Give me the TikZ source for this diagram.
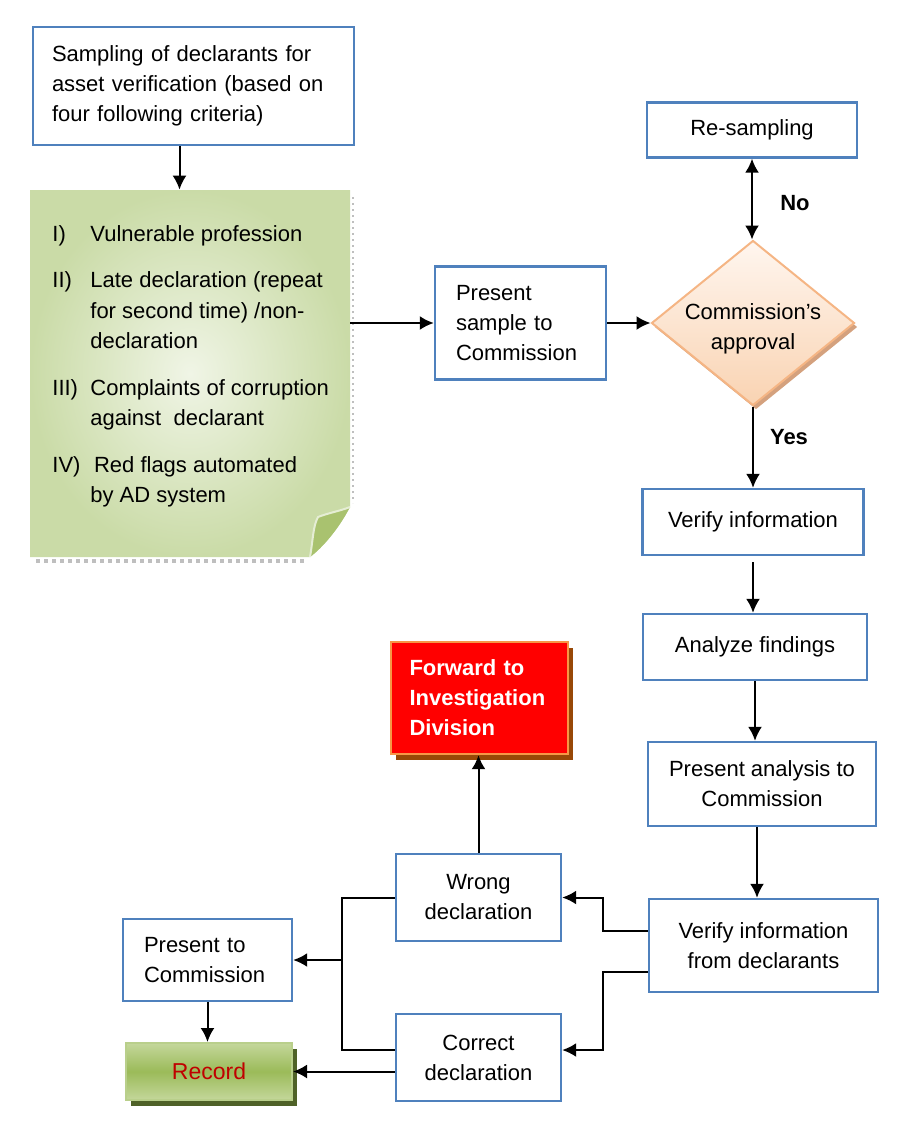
\documentclass[tikz,border=0pt]{standalone}
\usepackage{fontspec}
\setmainfont{Liberation Sans}
\usetikzlibrary{shapes.geometric,arrows.meta,shadows}

\definecolor{boxblue}{HTML}{4F81BD}
\definecolor{notelight}{HTML}{F0F5E6}
\definecolor{notedark}{HTML}{CADBA7}
\definecolor{flapgreen}{HTML}{A9C26F}
\definecolor{peachtop}{HTML}{FFF6EF}
\definecolor{peachbot}{HTML}{F9D3B2}
\definecolor{peachline}{HTML}{F5B584}
\definecolor{peachshadow}{HTML}{C98A5E}
\definecolor{recdark}{HTML}{9BBB59}
\definecolor{reclight}{HTML}{C4D79B}
\definecolor{recshadow}{HTML}{4F6228}
\definecolor{recred}{HTML}{C00000}
\definecolor{fwdred}{HTML}{FF0000}
\definecolor{fwdline}{HTML}{F79646}
\definecolor{fwdshadow}{HTML}{984807}

\tikzset{
  box/.style={draw=boxblue, line width=1.2pt, fill=white, align=center,
    inner sep=0pt, font=\fontsize{11}{15}\selectfont},
  lbox/.style={box, align=left, inner xsep=10.5pt},
  arr/.style={-{Latex[length=7pt,width=7pt]}, line width=1pt},
  link/.style={line width=1pt},
  lbl/.style={font=\fontsize{11}{15}\selectfont\bfseries},
}

\begin{document}
\begin{tikzpicture}[x=0.5pt, y=-0.5pt]
    \useasboundingbox (0,0) rectangle (898,1124);

    % Left column
    \node[lbox, text width=141.5pt, inner xsep=9.5pt, minimum height=59pt] (samp) at (193.5,86)
        {Sampling of declarants for\\asset verification (based on\\four following criteria)};

    \node[minimum width=160pt, minimum height=184pt, inner sep=0pt] (crit) at (190,374) {};
    \coordinate (nw) at (30,190);
    \coordinate (ne) at (350,190);
    \coordinate (fa) at (350,507);
    \coordinate (fb) at (310,557);
    \coordinate (sw) at (30,557);
    \draw[gray!50, dotted, line width=2pt] (36,561) -- (306,561);
    \draw[gray!50, dotted, line width=1pt] (352.5,197) -- (352.5,503);
    \shade[inner color=notelight, outer color=notedark]
        (nw) -- (ne) -- (fa) .. controls (338,530) and (322,548) .. (fb) -- (sw) -- cycle;
    \fill[flapgreen] (fb) .. controls (313,540) and (313,526) .. (318,517)
        .. controls (328,513) and (340,511) .. (fa)
        .. controls (338,530) and (322,548) .. (fb);
    \draw[white!70!flapgreen, line width=1pt] (fb) .. controls (313,540) and (313,526) .. (318,517)
        .. controls (328,513) and (340,511) .. (fa);

    \node[anchor=north west, align=left, inner sep=0pt,
          font=\fontsize{11}{15.25}\selectfont] (critlist) at (52,225) {%
        \makebox[19pt][l]{I)}Vulnerable profession\\[8pt]
        \makebox[19pt][l]{II)}Late declaration (repeat\\
        \hspace*{19pt}for second time) /non-\\
        \hspace*{19pt}declaration\\[8pt]
        \makebox[19pt][l]{III)}Complaints of corruption\\
        \hspace*{19pt}against\ \ declarant\\[8pt]
        \makebox[19pt][l]{IV)}\,Red flags automated\\
        \hspace*{19pt}by AD system};

    % Approval
    \node[lbox, text width=64.5pt, minimum height=56.5pt] (pres) at (520.5,323)
        {Present\\sample to\\Commission};
    \node[diamond, draw=peachline, line width=1pt, top color=peachtop, bottom color=peachbot,
          aspect=1.23, minimum width=101.5pt, minimum height=82.5pt, inner sep=0pt,
          align=center, font=\fontsize{11}{15}\selectfont,
          drop shadow={shadow xshift=1.5pt, shadow yshift=-2pt, fill=peachshadow, opacity=.8}]
          (appr) at (753,323)
          {\raisebox{-3pt}[\height][\depth]{Commission’s}\\\raisebox{-3pt}[\height][\depth]{approval}};
    \node[box, minimum width=105pt, minimum height=27.5pt] (resamp) at (752,130) {Re-sampling};

    \node[lbl] (nolbl) at (795,203) {No};
    \node[lbl] (yeslbl) at (789,437) {Yes};

    % Right column
    \node[box, minimum width=110.5pt, minimum height=33pt] (vinfo) at (753,522) {Verify information};
    \node[box, minimum width=112pt, minimum height=33pt] (anal) at (755,647) {Analyze findings};
    \node[box, minimum width=114pt, minimum height=42pt] (pana) at (762,784)
        {Present analysis to\\Commission};
    \node[box, minimum width=114.5pt, minimum height=46.5pt] (vdecl) at (763.5,945.5)
        {Verify information\\from declarants};

    % Outcome
    \node[box, minimum width=82.5pt, minimum height=43.5pt] (wrong) at (478.5,897.5)
        {Wrong\\declaration};
    \node[box, minimum width=82.5pt, minimum height=43.5pt] (correct) at (478.5,1057.5)
        {Correct\\declaration};
    \node[lbox, draw=fwdline, fill=fwdred, text=white, text width=70pt, inner xsep=9.25pt,
          minimum height=56pt, font=\fontsize{11}{15}\selectfont\bfseries,
          drop shadow={shadow xshift=2.5pt, shadow yshift=-3pt, fill=fwdshadow, opacity=1}]
          (fwd) at (479.5,698) {Forward to\\Investigation\\Division};
    \node[lbox, text width=63.5pt, minimum height=41pt] (prescomm) at (207.5,960)
        {Present to\\Commission};
    \node[draw=recdark!70!white, line width=1pt, top color=reclight, bottom color=reclight,
          middle color=recdark, minimum width=83pt, minimum height=28.5pt, text=recred,
          font=\fontsize{11.5}{15}\selectfont,
          drop shadow={shadow xshift=2.5pt, shadow yshift=-3pt, fill=recshadow, opacity=1}]
          (rec) at (209,1071.5) {Record};

    % Connectors
    \draw[arr] ([xshift=-7pt]samp.south) -- ([xshift=-7pt]samp.south |- crit.north);
    \draw[arr] (crit.east |- pres.west) -- (pres.west);
    \draw[arr] (pres.east) -- (appr.west);
    \draw[{Latex[length=7pt,width=7pt]}-{Latex[length=7pt,width=7pt]}, line width=1pt]
        (resamp.south) -- (resamp.south |- appr.north);
    \draw[arr] (appr.south) -- (appr.south |- vinfo.north);
    \draw[arr] ([yshift=-3pt]vinfo.south) -- (vinfo.south |- anal.north);
    \draw[arr] (anal.south) -- (anal.south |- pana.north);
    \draw[arr] ([xshift=-2.5pt]pana.south) -- ([xshift=-2.5pt]pana.south |- vdecl.north);
    \draw[arr] ([yshift=7.25pt]vdecl.west) -- ++(-45,0) |- (wrong.east);
    \draw[arr] ([yshift=-13.25pt]vdecl.west) -- ++(-45,0) |- ([yshift=3.75pt]correct.east);
    \draw[link] (wrong.west) -- ++(-53,0) coordinate (jn) |- ([yshift=3.75pt]correct.west);
    \draw[arr] (jn |- prescomm.east) -- (prescomm.east);
    \draw[arr] (correct.west |- rec.east) -- (rec.east);
    \draw[arr] (prescomm.south) -- (prescomm.south |- rec.north);
    \draw[arr] (wrong.north) -- (wrong.north |- fwd.south);
\end{tikzpicture}
\end{document}
